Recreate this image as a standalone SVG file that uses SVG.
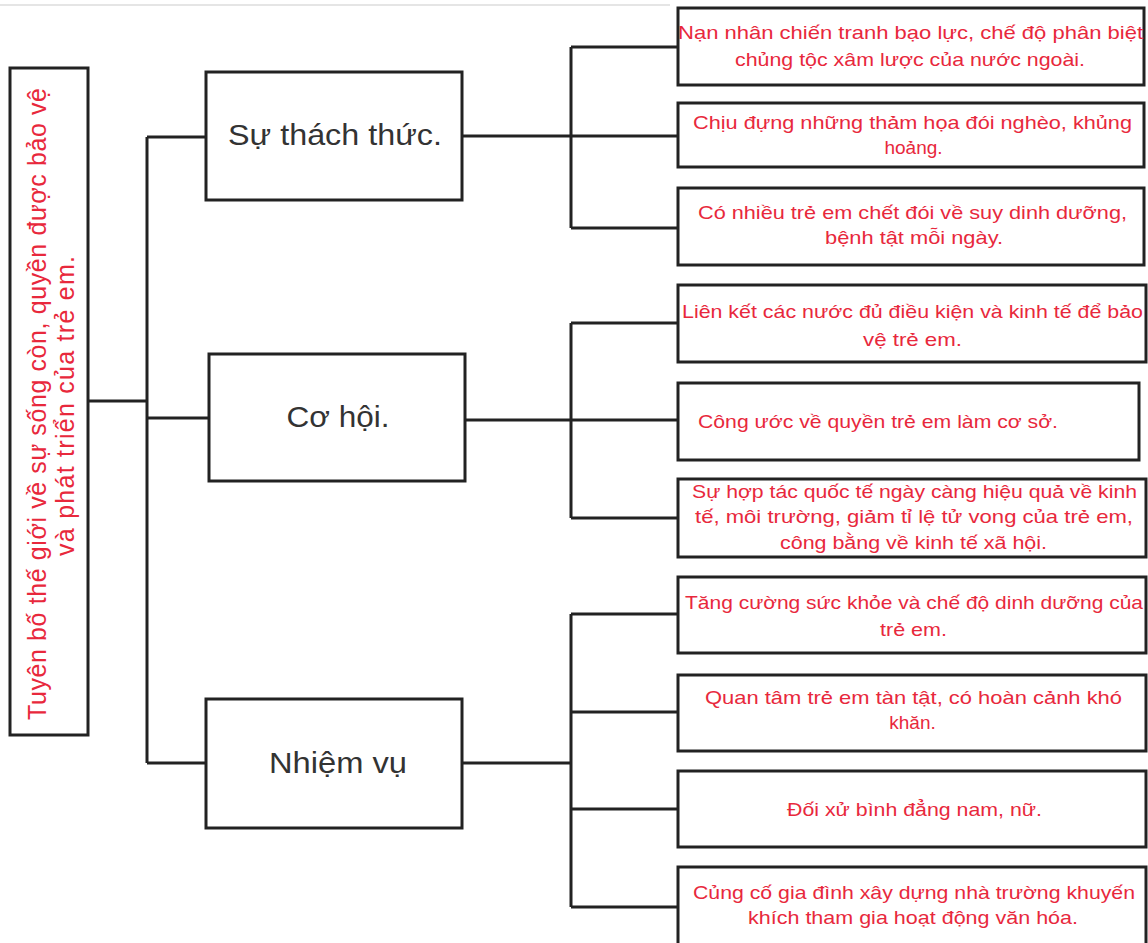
<svg xmlns="http://www.w3.org/2000/svg" width="1148" height="943" viewBox="0 0 1148 943">
<style>
.box{fill:#fff;stroke:#222;stroke-width:3}
.con{fill:none;stroke:#222;stroke-width:3}
.red{font-family:"Liberation Sans",Arial,sans-serif;font-size:19px;fill:#e8283c;text-anchor:middle}
.mid{font-family:"Liberation Sans",Arial,sans-serif;font-size:29px;fill:#333;text-anchor:middle}
.root{font-family:"Liberation Sans",Arial,sans-serif;font-size:25px;fill:#e8283c;text-anchor:middle}
</style>
<rect width="1148" height="943" fill="#fff"/>
<line x1="0" y1="5" x2="670" y2="5" stroke="#ddd" stroke-width="1.5"/>
<g id="connectors">
<path class="con" d="M88,401 H147 M147,137 V763 M147,137 H206 M147,418 H209 M147,763 H206"/>
<path class="con" d="M462,136 H678 M571,47 V228 M571,47 H678 M571,228 H678"/>
<path class="con" d="M465,420 H678 M571,323 V518 M571,323 H678 M571,518 H678"/>
<path class="con" d="M462,763 H571 M571,614 V907 M571,614 H678 M571,712 H678 M571,809 H678 M571,907 H678"/>
</g>
<g id="root">
<rect class="box" x="10" y="68" width="78" height="667"/>
<text class="root" transform="translate(46,404) rotate(-90)" textLength="632" lengthAdjust="spacing">Tuyên bố thế giới về sự sống còn, quyền được bảo vệ</text>
<text class="root" transform="translate(74,406) rotate(-90)" textLength="300" lengthAdjust="spacing">và phát triển của trẻ em.</text>
</g>
<g id="n-thachthuc">
<rect class="box" x="206" y="72" width="256" height="128"/>
<text class="mid" x="335" y="145" textLength="214" lengthAdjust="spacingAndGlyphs">Sự thách thức.</text>
</g>
<g id="n-cohoi">
<rect class="box" x="209" y="354" width="256" height="127"/>
<text class="mid" x="338" y="427" textLength="103" lengthAdjust="spacingAndGlyphs">Cơ hội.</text>
</g>
<g id="n-nhiemvu">
<rect class="box" x="206" y="699" width="256" height="129"/>
<text class="mid" x="338" y="773" textLength="138" lengthAdjust="spacingAndGlyphs">Nhiệm vụ</text>
</g>
<g id="c1">
<rect class="box" x="678" y="8" width="466" height="77"/>
<text class="red" x="910.5" y="39" textLength="465" lengthAdjust="spacingAndGlyphs">Nạn nhân chiến tranh bạo lực, chế độ phân biệt</text>
<text class="red" x="910" y="66" textLength="350" lengthAdjust="spacingAndGlyphs">chủng tộc xâm lược của nước ngoài.</text>
</g>
<g id="c2">
<rect class="box" x="678" y="103" width="466" height="64"/>
<text class="red" x="912.5" y="129" textLength="439" lengthAdjust="spacingAndGlyphs">Chịu đựng những thảm họa đói nghèo, khủng</text>
<text class="red" x="913.5" y="154">hoảng.</text>
</g>
<g id="c3">
<rect class="box" x="678" y="188" width="466" height="77"/>
<text class="red" x="912.5" y="219" textLength="429" lengthAdjust="spacingAndGlyphs">Có nhiều trẻ em chết đói về suy dinh dưỡng,</text>
<text class="red" x="914" y="244" textLength="178" lengthAdjust="spacingAndGlyphs">bệnh tật mỗi ngày.</text>
</g>
<g id="c4">
<rect class="box" x="678" y="285" width="468" height="77"/>
<text class="red" x="912.5" y="318" textLength="461" lengthAdjust="spacingAndGlyphs">Liên kết các nước đủ điều kiện và kinh tế để bảo</text>
<text class="red" x="912.5" y="346" textLength="99" lengthAdjust="spacingAndGlyphs">vệ trẻ em.</text>
</g>
<g id="c5">
<rect class="box" x="678" y="383" width="461" height="77"/>
<text class="red" x="698" y="428" style="text-anchor:start" textLength="360" lengthAdjust="spacingAndGlyphs">Công ước về quyền trẻ em làm cơ sở.</text>
</g>
<g id="c6">
<rect class="box" x="678" y="479" width="468" height="78"/>
<text class="red" x="914.5" y="498" textLength="445" lengthAdjust="spacingAndGlyphs">Sự hợp tác quốc tế ngày càng hiệu quả về kinh</text>
<text class="red" x="914" y="523" textLength="438" lengthAdjust="spacingAndGlyphs">tế, môi trường, giảm tỉ lệ tử vong của trẻ em,</text>
<text class="red" x="913.5" y="549" textLength="267" lengthAdjust="spacingAndGlyphs">công bằng về kinh tế xã hội.</text>
</g>
<g id="c7">
<rect class="box" x="678" y="577" width="468" height="76"/>
<text class="red" x="914" y="609" textLength="458" lengthAdjust="spacingAndGlyphs">Tăng cường sức khỏe và chế độ dinh dưỡng của</text>
<text class="red" x="913.5" y="636" textLength="67" lengthAdjust="spacingAndGlyphs">trẻ em.</text>
</g>
<g id="c8">
<rect class="box" x="678" y="675" width="468" height="76"/>
<text class="red" x="913.5" y="704" textLength="417" lengthAdjust="spacingAndGlyphs">Quan tâm trẻ em tàn tật, có hoàn cảnh khó</text>
<text class="red" x="912.5" y="729">khăn.</text>
</g>
<g id="c9">
<rect class="box" x="678" y="771" width="468" height="76"/>
<text class="red" x="914.5" y="816" textLength="255" lengthAdjust="spacingAndGlyphs">Đối xử bình đẳng nam, nữ.</text>
</g>
<g id="c10">
<rect class="box" x="678" y="867" width="468" height="80"/>
<text class="red" x="914" y="899" textLength="442" lengthAdjust="spacingAndGlyphs">Củng cố gia đình xây dựng nhà trường khuyến</text>
<text class="red" x="913" y="924" textLength="330" lengthAdjust="spacingAndGlyphs">khích tham gia hoạt động văn hóa.</text>
</g>
</svg>
